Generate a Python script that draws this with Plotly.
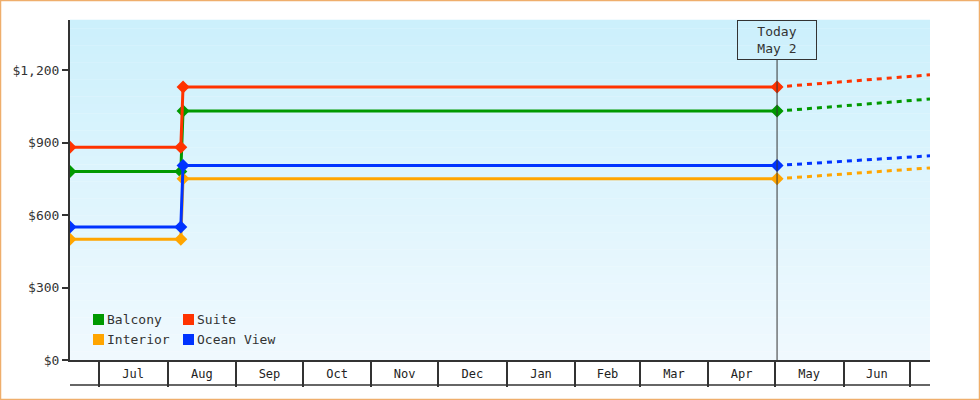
import plotly.graph_objects as go

# price history per cabin type
dates = ["2023-06-18", "2023-08-07", "2023-08-08", "2024-05-02"]
balcony = [780, 780, 1030, 1030]
suite = [880, 880, 1130, 1130]
interior = [500, 500, 750, 750]
ocean_view = [550, 550, 805, 805]

# projection from today to end of the window
forecast_dates = ["2024-05-02", "2024-07-10"]
balcony_fc = [1030, 1080]
suite_fc = [1130, 1180]
interior_fc = [750, 795]
ocean_view_fc = [805, 845]

today = "2024-05-02"
today_label = "Today<br>May 2"
y_ticks = [0, 300, 600, 900, 1200]
y_tick_labels = ["$0", "$300", "$600", "$900", "$1,200"]

FONT = "DejaVu Sans Mono"
W, H = 980, 400
ML, MR, MT, MB = 70, 50, 20, 40
PW, PH = W - ML - MR, H - MT - MB

def px(x):
    return (x - ML) / PW

def py(y):
    return (H - MB - y) / PH

# name, values, forecast, colour, legend slot (left px, top px)
series = [
    ("Balcony", balcony, balcony_fc, "#009900", (93, 314)),
    ("Suite", suite, suite_fc, "#ff3300", (183, 314)),
    ("Interior", interior, interior_fc, "#ffa500", (93, 334)),
    ("Ocean View", ocean_view, ocean_view_fc, "#0033ff", (183, 334)),
]

fig = go.Figure()

# plot background gradient, drawn as thin bands
bands = 40
top, bot = (204, 240, 252), (240, 249, 254)
shapes = []
for i in range(bands):
    t = i / (bands - 1)
    c = tuple(round(top[k] + (bot[k] - top[k]) * t) for k in range(3))
    shapes.append(dict(type="rect", xref="paper", yref="paper", layer="below",
                       x0=0, x1=1, y0=1 - (i + 1) / bands, y1=1 - i / bands + 0.001,
                       fillcolor="rgb(%d,%d,%d)" % c, line_width=0))

for name, vals, fc, color, (lx, ly) in series:
    fig.add_trace(go.Scatter(x=forecast_dates, y=fc, mode="lines", showlegend=False,
                             line=dict(color=color, width=3, dash="5px,5px"),
                             hoverinfo="skip"))
    fig.add_trace(go.Scatter(x=dates, y=vals, mode="lines+markers", name=name,
                             showlegend=False, line=dict(color=color, width=3),
                             marker=dict(symbol="diamond", size=10, color=color)))
    # legend: square swatch + label
    shapes.append(dict(type="rect", xref="paper", yref="paper",
                       x0=px(lx), x1=px(lx + 11), y0=py(ly + 11), y1=py(ly),
                       fillcolor=color, line_width=0))
    fig.add_annotation(x=px(lx + 12), y=py(ly + 5.5), xref="paper", yref="paper",
                       xanchor="left", yanchor="middle", showarrow=False, text=name,
                       font=dict(family=FONT, size=13, color="#333333"))

# today marker line and label box
shapes.append(dict(type="line", xref="x", yref="paper", x0=today, x1=today, y0=0, y1=py(60),
                   line=dict(color="#333333", width=1)))
# bottom line under the month boxes
shapes.append(dict(type="line", xref="paper", yref="paper", x0=0, x1=1,
                   y0=py(385), y1=py(385), line=dict(color="#333333", width=1.5)))
# outer frame
shapes.append(dict(type="rect", xref="paper", yref="paper",
                   x0=px(0.5), x1=px(W - 0.5), y0=py(H - 0.5), y1=py(0.5),
                   line=dict(color="#efae6c", width=1.5)))

fig.add_annotation(x=today, y=1, xref="x", yref="paper", yanchor="top", text=today_label,
                   showarrow=False, font=dict(family=FONT, size=13, color="#333333"),
                   bordercolor="#333333", borderwidth=1, borderpad=3, bgcolor="rgba(0,0,0,0)",
                   width=72, height=32)

fig.update_layout(
    width=W, height=H,
    margin=dict(l=ML, r=MR, t=MT, b=MB),
    paper_bgcolor="white",
    plot_bgcolor="rgba(0,0,0,0)",
    font=dict(family=FONT, size=12, color="#333333"),
    shapes=shapes,
    showlegend=False,
    xaxis=dict(type="date", range=["2023-06-18", "2024-07-10"], dtick="M1",
               tick0="2023-07-01", tickformat="%b", ticklabelmode="period",
               ticks="outside", ticklen=25, tickwidth=1.5, tickcolor="#333333",
               ticklabelstandoff=-23, showgrid=False, zeroline=False,
               showline=True, linecolor="#333333", linewidth=1.5,
               tickfont=dict(family=FONT, size=12, color="#222222")),
    yaxis=dict(range=[0, 1407], tickvals=y_ticks, ticktext=y_tick_labels,
               ticks="outside", ticklen=6, tickwidth=2, tickcolor="#333333",
               showgrid=False, zeroline=False, showline=True, linecolor="#333333",
               linewidth=2, tickfont=dict(family=FONT, size=13, color="#333333")),
)

fig.write_html("out.html", config={"displayModeBar": False},
               post_script="document.body.style.margin='0';")
